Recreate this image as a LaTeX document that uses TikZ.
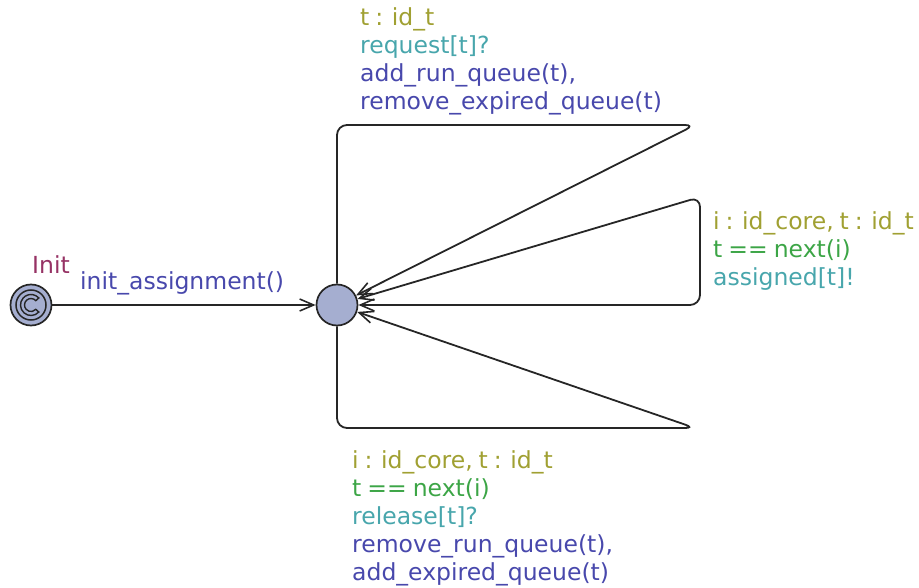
\documentclass[tikz,border=0pt]{standalone}
\usepackage{fontspec}
\setmainfont{DejaVu Sans}
\usetikzlibrary{arrows.meta}
\definecolor{locfill}{RGB}{165,174,208}
\definecolor{selcol}{RGB}{160,160,50}
\definecolor{guardcol}{RGB}{60,165,70}
\definecolor{synccol}{RGB}{72,166,172}
\definecolor{updcol}{RGB}{72,72,172}
\definecolor{namecol}{RGB}{150,50,100}
% label font with slightly tighter word spaces
\newcommand{\edgelabelfont}{\fontsize{23.5}{28}\selectfont\spaceskip=6pt plus 1pt\relax}
\begin{document}
\begin{tikzpicture}[x=1pt,y=-1pt,
  loc/.style={circle, draw=black!85, line width=1.7pt, fill=locfill, minimum size=41pt, inner sep=0pt},
  tip/.tip={Straight Barb[length=14pt,width=12pt,line width=1.6pt]},
  trans/.style={draw=black!85, line width=1.8pt, -tip},
  lbl/.style={font=\edgelabelfont, align=left, inner sep=0pt, anchor=north west}]
\useasboundingbox (0,0) rectangle (919,588);

% locations
\node[loc] (init) at (31,305) {};
\draw[line width=1.5pt, black!85] (init.center) circle (15pt);
\draw[line width=1.4pt, black!85, fill=locfill]
  ([shift={(42:10.5)}]init.center) arc[start angle=42, end angle=318, radius=10.5]
  -- ([shift={(318:6.5)}]init.center) arc[start angle=318, end angle=42, radius=6.5] -- cycle;
\node[loc] (run) at (337,305) {};

% initial transition
\draw[trans] (init) -- (run);

% self loops
\draw[trans] (run.north) [rounded corners=10] -- (337,125) -- (695,125) -- (run);
\draw[trans, tip-tip] (run) [rounded corners=10] -- (700,305) -- (700,197) -- (run);
\draw[trans] (run.south) [rounded corners=10] -- (337,428) -- (695,428) -- (run);

% labels
\node[lbl, text=namecol] (initname) at (32,255) {Init};
\node[lbl, text=updcol] (initupd) at (80,271) {init\_assignment()};

\node[lbl] (toplbl) at (360,7) {\textcolor{selcol}{t : id\_t}\\
  \textcolor{synccol}{request[t]?}\\
  \textcolor{updcol}{add\_run\_queue(t),}\\
  \textcolor{updcol}{remove\_expired\_queue(t)}};

\node[lbl] (rightlbl) at (713,211) {\textcolor{selcol}{i : id\_core, t : id\_t}\\
  \textcolor{guardcol}{t == next(i)}\\
  \textcolor{synccol}{assigned[t]!}};

\node[lbl] (botlbl) at (352,450) {\textcolor{selcol}{i : id\_core, t : id\_t}\\
  \textcolor{guardcol}{t == next(i)}\\
  \textcolor{synccol}{release[t]?}\\
  \textcolor{updcol}{remove\_run\_queue(t),}\\
  \textcolor{updcol}{add\_expired\_queue(t)}};
\end{tikzpicture}
\end{document}
